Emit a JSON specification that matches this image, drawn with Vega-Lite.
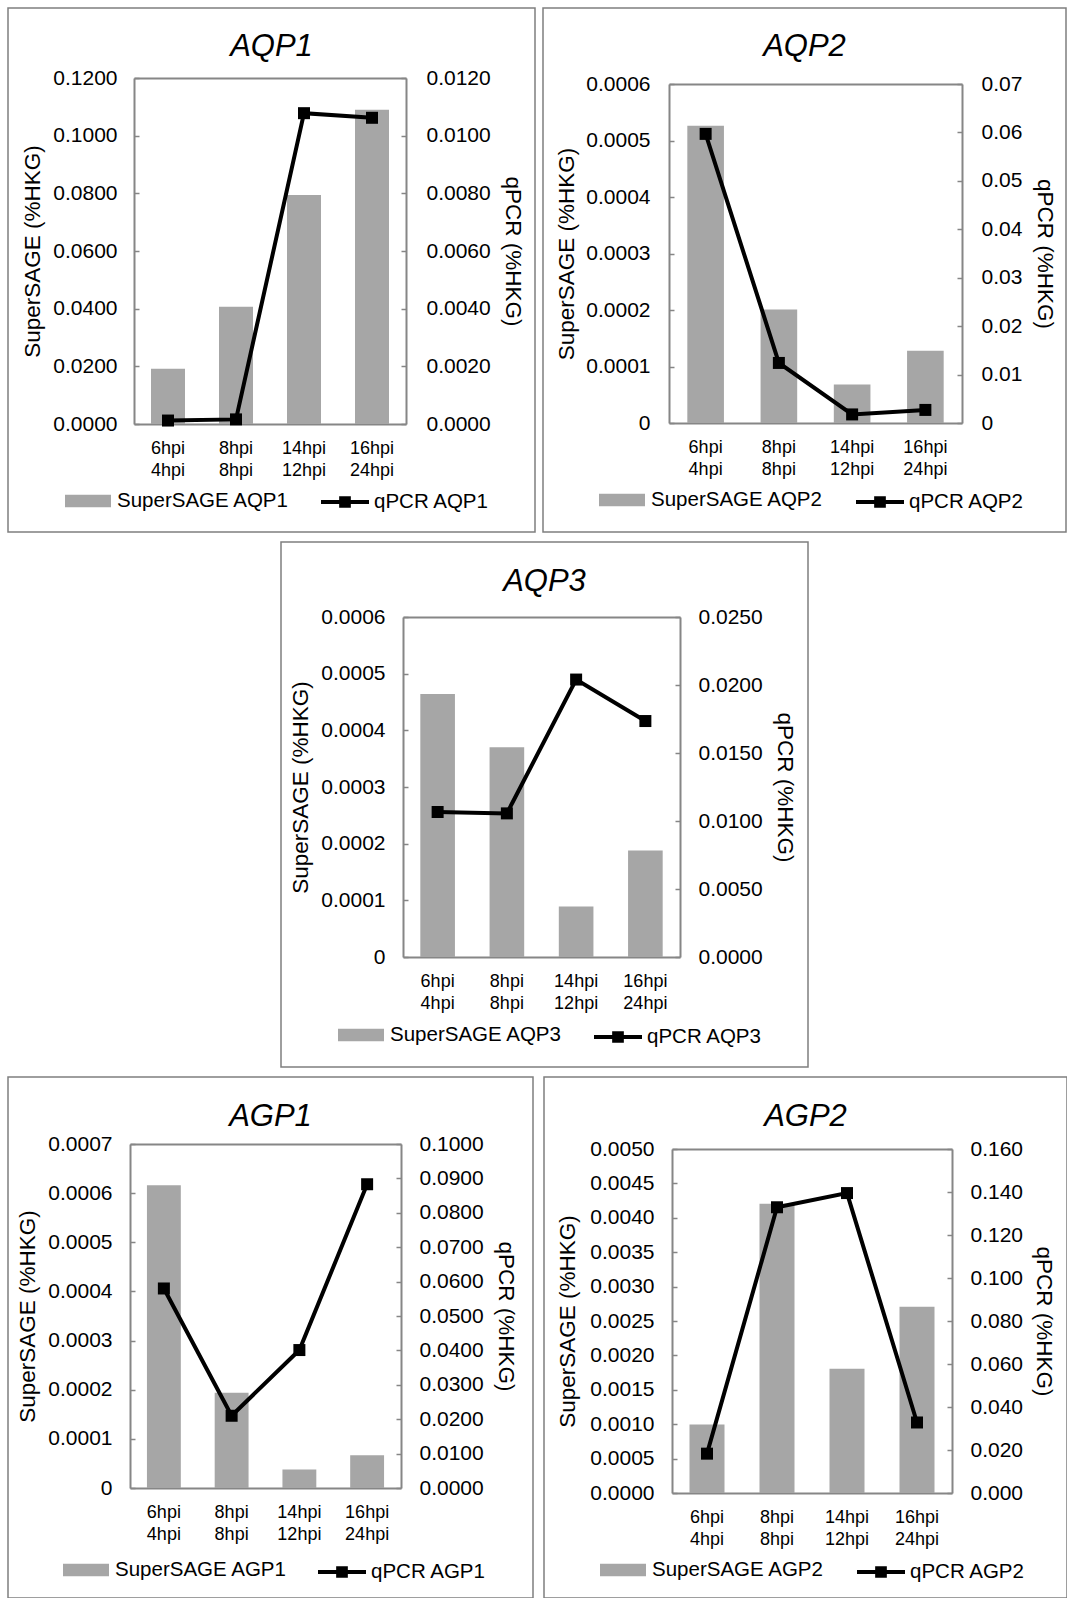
{
  "$schema": "https://vega.github.io/schema/vega-lite/v6.json",
  "background": "#ffffff",
  "padding": {"left": 7, "top": 7, "right": 0, "bottom": 0},
  "datasets": {
    "aqp1": [
      {"time": "6hpi|4hpi", "supersage": 0.0192, "qpcr": 0.00012},
      {"time": "8hpi|8hpi", "supersage": 0.0407, "qpcr": 0.00016},
      {"time": "14hpi|12hpi", "supersage": 0.0794, "qpcr": 0.01078},
      {"time": "16hpi|24hpi", "supersage": 0.109, "qpcr": 0.01062}
    ],
    "aqp2": [
      {"time": "6hpi|4hpi", "supersage": 0.000526, "qpcr": 0.0597},
      {"time": "8hpi|8hpi", "supersage": 0.000201, "qpcr": 0.0124},
      {"time": "14hpi|12hpi", "supersage": 0.0000681, "qpcr": 0.00177},
      {"time": "16hpi|24hpi", "supersage": 0.000128, "qpcr": 0.0027}
    ],
    "aqp3": [
      {"time": "6hpi|4hpi", "supersage": 0.000464, "qpcr": 0.01066},
      {"time": "8hpi|8hpi", "supersage": 0.00037, "qpcr": 0.01056},
      {"time": "14hpi|12hpi", "supersage": 0.0000891, "qpcr": 0.0204},
      {"time": "16hpi|24hpi", "supersage": 0.000188, "qpcr": 0.01735}
    ],
    "agp1": [
      {"time": "6hpi|4hpi", "supersage": 0.000616, "qpcr": 0.058},
      {"time": "8hpi|8hpi", "supersage": 0.000194, "qpcr": 0.021},
      {"time": "14hpi|12hpi", "supersage": 0.0000376, "qpcr": 0.0401},
      {"time": "16hpi|24hpi", "supersage": 0.0000664, "qpcr": 0.0883}
    ],
    "agp2": [
      {"time": "6hpi|4hpi", "supersage": 0.000994, "qpcr": 0.0183},
      {"time": "8hpi|8hpi", "supersage": 0.004203, "qpcr": 0.1329},
      {"time": "14hpi|12hpi", "supersage": 0.001806, "qpcr": 0.1395},
      {"time": "16hpi|24hpi", "supersage": 0.002707, "qpcr": 0.0328}
    ]
  },
  "spacing": 8,
  "resolve": {"scale": {"fill": "independent", "stroke": "independent"}},
  "vconcat": [
    {
      "spacing": 6,
      "resolve": {"scale": {"fill": "independent", "stroke": "independent"}},
      "hconcat": [
        {
          "width": 527, "height": 524,
          "view": {"stroke": "#7f7f7f", "strokeWidth": 1.5},
          "data": {"name": "aqp1"},
          "title": {"text": "AQP1", "anchor": "middle", "frame": "group", "offset": -79, "baseline": "alphabetic"},
          "encoding": {"x": {"field": "time", "type": "nominal", "title": null,
            "scale": {"domain": ["6hpi|4hpi", "8hpi|8hpi", "14hpi|12hpi", "16hpi|24hpi"], "range": [126, 398], "paddingInner": 0.5, "paddingOuter": 0.25},
            "axis": {"orient": "bottom", "offset": -108, "ticks": false, "labelExpr": "split(datum.label, '|')", "labelFontSize": 18, "labelLineHeight": 22, "labelPadding": 15, "labelBaseline": "top", "labelAngle": 0}}},
          "layer": [
            {"mark": {"type": "bar"}, "encoding": {
              "y": {"field": "supersage", "type": "quantitative", "title": "SuperSAGE (%HKG)",
                "scale": {"domain": [0, 0.12], "range": [416, 70], "nice": false},
                "axis": {"orient": "left", "offset": -126, "values": [0, 0.02, 0.04, 0.06, 0.08, 0.1, 0.12], "format": ".4f", "tickSize": -5, "labelPadding": 22, "titlePadding": 8}},
              "fill": {"datum": "SuperSAGE AQP1", "scale": {"range": ["#a6a6a6"]},
                "legend": {"orient": "none", "legendX": 57, "legendY": 470, "title": null, "symbolType": "M-1,-0.27H1V0.27H-1Z", "symbolSize": 2116, "symbolStrokeWidth": 0, "labelOffset": 6, "padding": 0, "labelLimit": 400, "labelBaseline": "middle"}}
            }},
            {"encoding": {
              "x": {"field": "time", "type": "nominal", "axis": {"orient": "top", "offset": -70, "labels": false, "ticks": false, "title": null}},
              "y": {"field": "qpcr", "type": "quantitative", "title": "qPCR (%HKG)",
                "scale": {"domain": [0, 0.012], "range": [416, 70], "nice": false},
                "axis": {"orient": "right", "offset": -129, "values": [0, 0.002, 0.004, 0.006, 0.008, 0.01, 0.012], "format": ".4f", "tickSize": -5, "labelPadding": 25, "titlePadding": 10}}},
              "layer": [
                {"mark": {"type": "line", "strokeWidth": 4}, "encoding": {
                  "stroke": {"datum": "qPCR AQP1", "scale": {"range": ["#000000"]},
                    "legend": {"orient": "none", "legendX": 311, "legendY": 468, "title": null, "symbolType": "M-1,0H1M-0.16,-0.16H0.16V0.16H-0.16Z", "symbolSize": 2304, "symbolStrokeWidth": 4, "symbolFillColor": "#000000", "labelOffset": 3, "padding": 0, "labelLimit": 400, "labelBaseline": "middle"}}}},
                {"mark": {"type": "point", "shape": "square", "size": 144, "filled": true, "color": "#000000", "opacity": 1}}
              ]}
          ],
          "resolve": {"scale": {"y": "independent"}, "axis": {"x": "independent"}}
        },
        {
          "width": 523, "height": 524,
          "view": {"stroke": "#7f7f7f", "strokeWidth": 1.5},
          "data": {"name": "aqp2"},
          "title": {"text": "AQP2", "anchor": "middle", "frame": "group", "offset": -79, "baseline": "alphabetic"},
          "encoding": {"x": {"field": "time", "type": "nominal", "title": null,
            "scale": {"domain": ["6hpi|4hpi", "8hpi|8hpi", "14hpi|12hpi", "16hpi|24hpi"], "range": [126, 419], "paddingInner": 0.5, "paddingOuter": 0.25},
            "axis": {"orient": "bottom", "offset": -109, "ticks": false, "labelExpr": "split(datum.label, '|')", "labelFontSize": 18, "labelLineHeight": 22, "labelPadding": 15, "labelBaseline": "top", "labelAngle": 0}}},
          "layer": [
            {"mark": {"type": "bar"}, "encoding": {
              "y": {"field": "supersage", "type": "quantitative", "title": "SuperSAGE (%HKG)",
                "scale": {"domain": [0, 0.0006], "range": [415, 76], "nice": false},
                "axis": {"orient": "left", "offset": -126, "values": [0, 0.0001, 0.0002, 0.0003, 0.0004, 0.0005, 0.0006], "labelExpr": "datum.value == 0 ? '0' : format(datum.value, '.4f')", "tickSize": -5, "labelPadding": 24, "titlePadding": 7}},
              "fill": {"datum": "SuperSAGE AQP2", "scale": {"range": ["#a6a6a6"]},
                "legend": {"orient": "none", "legendX": 56, "legendY": 469, "title": null, "symbolType": "M-1,-0.27H1V0.27H-1Z", "symbolSize": 2116, "symbolStrokeWidth": 0, "labelOffset": 6, "padding": 0, "labelLimit": 400, "labelBaseline": "middle"}}
            }},
            {"encoding": {
              "x": {"field": "time", "type": "nominal", "axis": {"orient": "top", "offset": -76, "labels": false, "ticks": false, "title": null}},
              "y": {"field": "qpcr", "type": "quantitative", "title": "qPCR (%HKG)",
                "scale": {"domain": [0, 0.07], "range": [415, 76], "nice": false},
                "axis": {"orient": "right", "offset": -104, "values": [0, 0.01, 0.02, 0.03, 0.04, 0.05, 0.06, 0.07], "labelExpr": "datum.value == 0 ? '0' : format(datum.value, '.2f')", "tickSize": -5, "labelPadding": 24, "titlePadding": 11}}},
              "layer": [
                {"mark": {"type": "line", "strokeWidth": 4}, "encoding": {
                  "stroke": {"datum": "qPCR AQP2", "scale": {"range": ["#000000"]},
                    "legend": {"orient": "none", "legendX": 311, "legendY": 468, "title": null, "symbolType": "M-1,0H1M-0.16,-0.16H0.16V0.16H-0.16Z", "symbolSize": 2304, "symbolStrokeWidth": 4, "symbolFillColor": "#000000", "labelOffset": 3, "padding": 0, "labelLimit": 400, "labelBaseline": "middle"}}}},
                {"mark": {"type": "point", "shape": "square", "size": 144, "filled": true, "color": "#000000", "opacity": 1}}
              ]}
          ],
          "resolve": {"scale": {"y": "independent"}, "axis": {"x": "independent"}}
        }
      ]
    },
    {
      "spacing": 8,
      "resolve": {"scale": {"fill": "independent", "stroke": "independent"}},
      "hconcat": [
        {
          "width": 264, "height": 10,
          "view": {"stroke": null, "fill": "#ffffff"},
          "data": {"values": []},
          "mark": "point"
        },
        {
          "width": 527, "height": 525,
          "view": {"stroke": "#7f7f7f", "strokeWidth": 1.5},
          "data": {"name": "aqp3"},
          "title": {"text": "AQP3", "anchor": "middle", "frame": "group", "offset": -80, "baseline": "alphabetic"},
          "encoding": {"x": {"field": "time", "type": "nominal", "title": null,
            "scale": {"domain": ["6hpi|4hpi", "8hpi|8hpi", "14hpi|12hpi", "16hpi|24hpi"], "range": [122, 399], "paddingInner": 0.5, "paddingOuter": 0.25},
            "axis": {"orient": "bottom", "offset": -110, "ticks": false, "labelExpr": "split(datum.label, '|')", "labelFontSize": 18, "labelLineHeight": 22, "labelPadding": 15, "labelBaseline": "top", "labelAngle": 0}}},
          "layer": [
            {"mark": {"type": "bar"}, "encoding": {
              "y": {"field": "supersage", "type": "quantitative", "title": "SuperSAGE (%HKG)",
                "scale": {"domain": [0, 0.0006], "range": [415, 75], "nice": false},
                "axis": {"orient": "left", "offset": -122, "values": [0, 0.0001, 0.0002, 0.0003, 0.0004, 0.0005, 0.0006], "labelExpr": "datum.value == 0 ? '0' : format(datum.value, '.4f')", "tickSize": -5, "labelPadding": 23, "titlePadding": 8}},
              "fill": {"datum": "SuperSAGE AQP3", "scale": {"range": ["#a6a6a6"]},
                "legend": {"orient": "none", "legendX": 57, "legendY": 470, "title": null, "symbolType": "M-1,-0.27H1V0.27H-1Z", "symbolSize": 2116, "symbolStrokeWidth": 0, "labelOffset": 6, "padding": 0, "labelLimit": 400, "labelBaseline": "middle"}}
            }},
            {"encoding": {
              "x": {"field": "time", "type": "nominal", "axis": {"orient": "top", "offset": -75, "labels": false, "ticks": false, "title": null}},
              "y": {"field": "qpcr", "type": "quantitative", "title": "qPCR (%HKG)",
                "scale": {"domain": [0, 0.025], "range": [415, 75], "nice": false},
                "axis": {"orient": "right", "offset": -128, "values": [0, 0.005, 0.01, 0.015, 0.02, 0.025], "format": ".4f", "tickSize": -5, "labelPadding": 23, "titlePadding": 10}}},
              "layer": [
                {"mark": {"type": "line", "strokeWidth": 4}, "encoding": {
                  "stroke": {"datum": "qPCR AQP3", "scale": {"range": ["#000000"]},
                    "legend": {"orient": "none", "legendX": 311, "legendY": 469, "title": null, "symbolType": "M-1,0H1M-0.16,-0.16H0.16V0.16H-0.16Z", "symbolSize": 2304, "symbolStrokeWidth": 4, "symbolFillColor": "#000000", "labelOffset": 3, "padding": 0, "labelLimit": 400, "labelBaseline": "middle"}}}},
                {"mark": {"type": "point", "shape": "square", "size": 144, "filled": true, "color": "#000000", "opacity": 1}}
              ]}
          ],
          "resolve": {"scale": {"y": "independent"}, "axis": {"x": "independent"}}
        }
      ]
    },
    {
      "spacing": 9,
      "resolve": {"scale": {"fill": "independent", "stroke": "independent"}},
      "hconcat": [
        {
          "width": 525, "height": 521,
          "view": {"stroke": "#7f7f7f", "strokeWidth": 1.5},
          "data": {"name": "agp1"},
          "title": {"text": "AGP1", "anchor": "middle", "frame": "group", "offset": -80, "baseline": "alphabetic"},
          "encoding": {"x": {"field": "time", "type": "nominal", "title": null,
            "scale": {"domain": ["6hpi|4hpi", "8hpi|8hpi", "14hpi|12hpi", "16hpi|24hpi"], "range": [122, 393], "paddingInner": 0.5, "paddingOuter": 0.25},
            "axis": {"orient": "bottom", "offset": -110, "ticks": false, "labelExpr": "split(datum.label, '|')", "labelFontSize": 18, "labelLineHeight": 22, "labelPadding": 15, "labelBaseline": "top", "labelAngle": 0}}},
          "layer": [
            {"mark": {"type": "bar"}, "encoding": {
              "y": {"field": "supersage", "type": "quantitative", "title": "SuperSAGE (%HKG)",
                "scale": {"domain": [0, 0.0007], "range": [411, 67], "nice": false},
                "axis": {"orient": "left", "offset": -122, "values": [0, 0.0001, 0.0002, 0.0003, 0.0004, 0.0005, 0.0006, 0.0007], "labelExpr": "datum.value == 0 ? '0' : format(datum.value, '.4f')", "tickSize": -5, "labelPadding": 23, "titlePadding": 8}},
              "fill": {"datum": "SuperSAGE AGP1", "scale": {"range": ["#a6a6a6"]},
                "legend": {"orient": "none", "legendX": 55, "legendY": 470, "title": null, "symbolType": "M-1,-0.27H1V0.27H-1Z", "symbolSize": 2116, "symbolStrokeWidth": 0, "labelOffset": 6, "padding": 0, "labelLimit": 400, "labelBaseline": "middle"}}
            }},
            {"encoding": {
              "x": {"field": "time", "type": "nominal", "axis": {"orient": "top", "offset": -67, "labels": false, "ticks": false, "title": null}},
              "y": {"field": "qpcr", "type": "quantitative", "title": "qPCR (%HKG)",
                "scale": {"domain": [0, 0.1], "range": [411, 67], "nice": false},
                "axis": {"orient": "right", "offset": -132, "values": [0, 0.01, 0.02, 0.03, 0.04, 0.05, 0.06, 0.07, 0.08, 0.09, 0.1], "format": ".4f", "tickSize": -5, "labelPadding": 23, "titlePadding": 10}}},
              "layer": [
                {"mark": {"type": "line", "strokeWidth": 4}, "encoding": {
                  "stroke": {"datum": "qPCR AGP1", "scale": {"range": ["#000000"]},
                    "legend": {"orient": "none", "legendX": 308, "legendY": 469, "title": null, "symbolType": "M-1,0H1M-0.16,-0.16H0.16V0.16H-0.16Z", "symbolSize": 2304, "symbolStrokeWidth": 4, "symbolFillColor": "#000000", "labelOffset": 3, "padding": 0, "labelLimit": 400, "labelBaseline": "middle"}}}},
                {"mark": {"type": "point", "shape": "square", "size": 144, "filled": true, "color": "#000000", "opacity": 1}}
              ]}
          ],
          "resolve": {"scale": {"y": "independent"}, "axis": {"x": "independent"}}
        },
        {
          "width": 523, "height": 521,
          "view": {"stroke": "#7f7f7f", "strokeWidth": 1.5},
          "data": {"name": "agp2"},
          "title": {"text": "AGP2", "anchor": "middle", "frame": "group", "offset": -80, "baseline": "alphabetic"},
          "encoding": {"x": {"field": "time", "type": "nominal", "title": null,
            "scale": {"domain": ["6hpi|4hpi", "8hpi|8hpi", "14hpi|12hpi", "16hpi|24hpi"], "range": [128, 408], "paddingInner": 0.5, "paddingOuter": 0.25},
            "axis": {"orient": "bottom", "offset": -105, "ticks": false, "labelExpr": "split(datum.label, '|')", "labelFontSize": 18, "labelLineHeight": 22, "labelPadding": 15, "labelBaseline": "top", "labelAngle": 0}}},
          "layer": [
            {"mark": {"type": "bar"}, "encoding": {
              "y": {"field": "supersage", "type": "quantitative", "title": "SuperSAGE (%HKG)",
                "scale": {"domain": [0, 0.005], "range": [416, 72], "nice": false},
                "axis": {"orient": "left", "offset": -128, "values": [0, 0.0005, 0.001, 0.0015, 0.002, 0.0025, 0.003, 0.0035, 0.004, 0.0045, 0.005], "format": ".4f", "tickSize": -5, "labelPadding": 23, "titlePadding": 10}},
              "fill": {"datum": "SuperSAGE AGP2", "scale": {"range": ["#a6a6a6"]},
                "legend": {"orient": "none", "legendX": 56, "legendY": 470, "title": null, "symbolType": "M-1,-0.27H1V0.27H-1Z", "symbolSize": 2116, "symbolStrokeWidth": 0, "labelOffset": 6, "padding": 0, "labelLimit": 400, "labelBaseline": "middle"}}
            }},
            {"encoding": {
              "x": {"field": "time", "type": "nominal", "axis": {"orient": "top", "offset": -72, "labels": false, "ticks": false, "title": null}},
              "y": {"field": "qpcr", "type": "quantitative", "title": "qPCR (%HKG)",
                "scale": {"domain": [0, 0.16], "range": [416, 72], "nice": false},
                "axis": {"orient": "right", "offset": -115, "values": [0, 0.02, 0.04, 0.06, 0.08, 0.1, 0.12, 0.14, 0.16], "format": ".3f", "tickSize": -5, "labelPadding": 23, "titlePadding": 9}}},
              "layer": [
                {"mark": {"type": "line", "strokeWidth": 4}, "encoding": {
                  "stroke": {"datum": "qPCR AGP2", "scale": {"range": ["#000000"]},
                    "legend": {"orient": "none", "legendX": 311, "legendY": 469, "title": null, "symbolType": "M-1,0H1M-0.16,-0.16H0.16V0.16H-0.16Z", "symbolSize": 2304, "symbolStrokeWidth": 4, "symbolFillColor": "#000000", "labelOffset": 3, "padding": 0, "labelLimit": 400, "labelBaseline": "middle"}}}},
                {"mark": {"type": "point", "shape": "square", "size": 144, "filled": true, "color": "#000000", "opacity": 1}}
              ]}
          ],
          "resolve": {"scale": {"y": "independent"}, "axis": {"x": "independent"}}
        }
      ]
    }
  ],
  "config": {
    "font": "Liberation Sans",
    "axis": {"labelFont": "Liberation Sans", "labelColor": "#000000", "labelFontSize": 21, "titleFont": "Liberation Sans", "titleFontSize": 22.5, "titleFontWeight": "normal", "titleColor": "#000000", "domainColor": "#868686", "domainWidth": 2, "tickColor": "#868686", "tickWidth": 1.5, "grid": false},
    "legend": {"labelFont": "Liberation Sans", "labelFontSize": 20.5, "labelColor": "#000000"},
    "title": {"font": "Liberation Sans", "fontSize": 31, "fontStyle": "italic", "fontWeight": "normal", "color": "#000000"}
  }
}
